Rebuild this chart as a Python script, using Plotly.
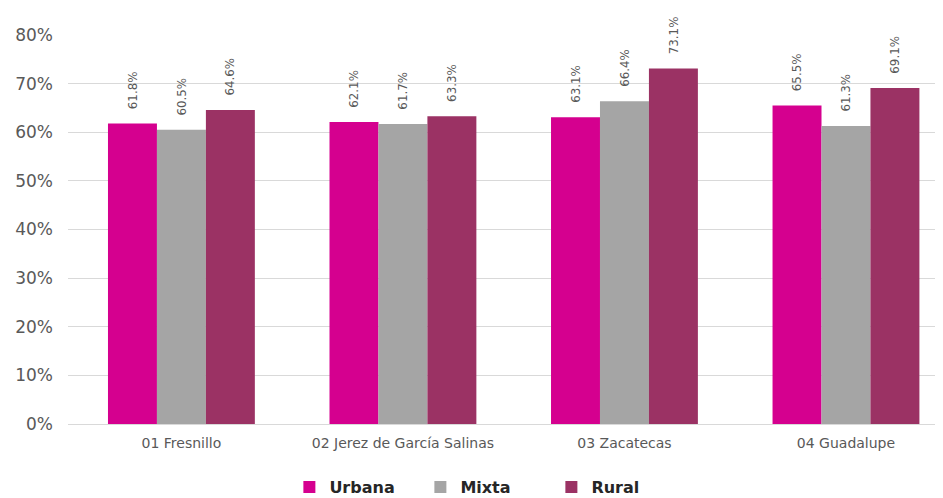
import plotly.graph_objects as go

categories = ["01 Fresnillo", "02 Jerez de García Salinas", "03 Zacatecas", "04 Guadalupe"]
urbana = [0.618, 0.621, 0.631, 0.655]
mixta = [0.605, 0.617, 0.664, 0.613]
rural = [0.646, 0.633, 0.731, 0.691]
series = [("Urbana", urbana, "#D5008F"), ("Mixta", mixta, "#A5A5A5"), ("Rural", rural, "#9B3264")]
y_ticks = [0, 0.1, 0.2, 0.3, 0.4, 0.5, 0.6, 0.7, 0.8]

FONT = "DejaVu Sans, Arial, sans-serif"
fig = go.Figure()
for name, vals, color in series:
    fig.add_trace(go.Bar(
        name=name, x=categories, y=vals, marker=dict(color=color, line=dict(width=0)),
        text=["\u00a0\u00a0\u00a0" + f"{v*100:.1f}%" for v in vals], textposition="outside", textangle=-90,
        textfont=dict(family=FONT, size=13, color="#595959"),
        cliponaxis=False,
    ))

# page body has an 8px default margin, so the figure is 8px smaller and shifted
fig.update_layout(
    width=935, height=490,
    margin=dict(l=60, r=0, t=27, b=74, autoexpand=False),
    plot_bgcolor="white", paper_bgcolor="white",
    barmode="group", bargap=0.337, bargroupgap=0,
    font=dict(family=FONT, color="#595959"),
    uniformtext=dict(mode=False),
    showlegend=True,
    legend=dict(orientation="h", x=0.253, xanchor="left", y=-0.162, yanchor="middle",
                font=dict(size=16, color="#262626", family=FONT, weight="bold"),
                itemwidth=30, traceorder="normal", entrywidth=86, entrywidthmode="pixels"),
)
fig.update_xaxes(range=[-0.512, 3.438], showline=True, linecolor="#D9D9D9", linewidth=1,
                 tickfont=dict(size=14, color="#595959"), ticks="", automargin=False,
                 ticklabelstandoff=6)
fig.update_yaxes(range=[0, 0.8], tickvals=y_ticks, tickformat=".0%", showgrid=True,
                 gridcolor="#D9D9D9", gridwidth=1, zeroline=False, automargin=False,
                 tickfont=dict(size=17, color="#595959"), ticklabelstandoff=14)

fig.write_html("out.html")
